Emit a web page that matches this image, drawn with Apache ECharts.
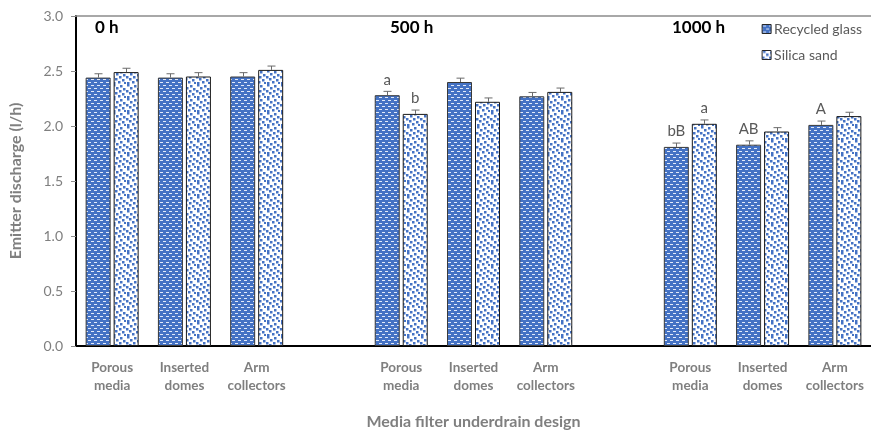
<!DOCTYPE html>
<html>
<head>
<meta charset="utf-8">
<script src="https://cdn.jsdelivr.net/npm/echarts@6/dist/echarts.min.js"></script>
<style>
  html, body { margin: 0; padding: 0; background: #fff; overflow: hidden; }
  #chart { width: 871px; height: 435px; }
</style>
</head>
<body>
<div id="chart"></div>
<script>
// Underdrain designs, repeated for each operating time
const designs = ['Porous\nmedia', 'Inserted\ndomes', 'Arm\ncollectors'];
const periods = ['0 h', '500 h', '1000 h'];

// Emitter discharge (l/h), ordered 0 h, 500 h, 1000 h × designs
const recycledGlass = [2.44, 2.44, 2.45, 2.28, 2.40, 2.27, 1.81, 1.83, 2.01];
const silicaSand    = [2.49, 2.45, 2.51, 2.11, 2.22, 2.31, 2.02, 1.95, 2.09];

// Standard errors
const recycledGlassErr = [0.035, 0.035, 0.035, 0.035, 0.035, 0.035, 0.035, 0.035, 0.035];
const silicaSandErr    = [0.035, 0.035, 0.035, 0.035, 0.035, 0.035, 0.035, 0.035, 0.035];

// Significance letters
const recycledGlassLetters = ['', '', '', 'a', '', '', 'bB', 'AB', 'A'];
const silicaSandLetters    = ['', '', '', 'b', '', '', 'a', '', ''];

const yTicks = [0, 0.5, 1.0, 1.5, 2.0, 2.5, 3.0];

const FONT = 'Lato, "Noto Sans", sans-serif';
const GREY = '#7f7f7f';
const BLUE = '#4472c4';

// Category axis: three designs per period, with an empty slot between periods
const categories = [];
const slotOf = [];
periods.forEach((p, pi) => {
  designs.forEach((d) => {
    slotOf.push(categories.length);
    categories.push(d);
  });
  if (pi < periods.length - 1) categories.push('');
});

function spread(values) {
  const out = categories.map(() => '-');
  values.forEach((v, i) => { out[slotOf[i]] = v; });
  return out;
}

// Fill patterns
function dashPattern() {
  const c = document.createElement('canvas');
  c.width = 6; c.height = 6;
  const g = c.getContext('2d');
  g.fillStyle = BLUE; g.fillRect(0, 0, 6, 6);
  g.fillStyle = 'rgba(235,240,252,0.95)';
  g.fillRect(1, 1, 3, 1);
  g.fillRect(4, 4, 3, 1);
  g.fillRect(0, 4, 1, 1);
  return c;
}
function confettiPattern() {
  const c = document.createElement('canvas');
  c.width = 14; c.height = 14;
  const g = c.getContext('2d');
  g.fillStyle = '#ffffff'; g.fillRect(0, 0, 14, 14);
  g.fillStyle = BLUE;
  const dots = [[1,0],[8,1],[4,3],[11,4],[0,6],[7,6],[3,8],[10,9],[6,11],[1,12],[12,12]];
  dots.forEach(([x, y]) => g.fillRect(x, y, 2.5, 2.5));
  return c;
}
const rgFill = { image: dashPattern(), repeat: 'repeat' };
const ssFill = { image: confettiPattern(), repeat: 'repeat' };

const BAR_W = 25;
const HALF_STEP = 14;

function errorData(values, errs) {
  return values.map((v, i) => [slotOf[i], v, errs[i]]);
}
function errorRenderer(side) {
  return function (params, api) {
    const x = api.value(0), v = api.value(1), e = api.value(2);
    const top = api.coord([x, v + e]);
    const base = api.coord([x, v]);
    const cx = Math.round(top[0] + side * HALF_STEP) + 0.5;
    const style = { stroke: '#6b6b6b', lineWidth: 1 };
    return {
      type: 'group',
      children: [
        { type: 'line', shape: { x1: cx, y1: base[1], x2: cx, y2: top[1] }, style },
        { type: 'line', shape: { x1: cx - 4, y1: top[1], x2: cx + 4, y2: top[1] }, style }
      ]
    };
  };
}

function letterLabel(letters) {
  return {
    show: true,
    position: 'top',
    distance: 8,
    color: '#595959',
    fontFamily: FONT,
    fontSize: 15,
    formatter: (p) => {
      const i = slotOf.indexOf(p.dataIndex);
      return i >= 0 ? letters[i] : '';
    }
  };
}

const chart = echarts.init(document.getElementById('chart'));
chart.setOption({
  animation: false,
  textStyle: { fontFamily: FONT },
  grid: { left: 75, right: 0, top: 16, bottom: 85 },
  legend: {
    orient: 'vertical',
    right: 4,
    top: 17,
    itemWidth: 9,
    itemHeight: 9,
    itemGap: 12,
    icon: 'rect',
    itemStyle: { borderColor: '#262626', borderWidth: 1 },
    textStyle: { color: '#595959', fontSize: 14, fontFamily: FONT, padding: [0, 0, 0, -2] },
    data: ['Recycled glass', 'Silica sand']
  },
  xAxis: [{
    type: 'category',
    data: categories,
    axisLine: { lineStyle: { color: '#000', width: 2 } },
    axisTick: { show: false },
    axisLabel: {
      color: GREY, fontWeight: 'bold', fontSize: 13.5, lineHeight: 18,
      margin: 13, interval: 0
    },
    name: 'Media filter underdrain design',
    nameLocation: 'middle',
    nameGap: 68,
    nameTextStyle: { color: GREY, fontWeight: 'bold', fontSize: 16 }
  }, {
    type: 'category',
    position: 'top',
    data: categories,
    axisLine: { lineStyle: { color: '#8c8c8c', width: 1.5 } },
    axisTick: { show: false },
    axisLabel: { show: false }
  }],
  yAxis: {
    type: 'value',
    min: yTicks[0],
    max: yTicks[yTicks.length - 1],
    interval: 0.5,
    axisLine: { show: true, lineStyle: { color: '#000', width: 2 } },
    axisTick: { show: true, length: 5, lineStyle: { color: '#8c8c8c' } },
    splitLine: { show: false },
    axisLabel: {
      color: GREY, fontSize: 14, margin: 13,
      formatter: (v) => v.toFixed(1)
    },
    name: 'Emitter discharge (l/h)',
    nameLocation: 'middle',
    nameGap: 52,
    nameTextStyle: { color: GREY, fontWeight: 'bold', fontSize: 16 }
  },
  series: [
    {
      name: 'Recycled glass',
      type: 'bar',
      data: spread(recycledGlass),
      barWidth: BAR_W,
      barGap: '12%',
      itemStyle: { color: rgFill, borderColor: '#3a3a3a', borderWidth: 1 },
      label: letterLabel(recycledGlassLetters)
    },
    {
      name: 'Silica sand',
      type: 'bar',
      data: spread(silicaSand),
      barWidth: BAR_W,
      barGap: '12%',
      itemStyle: { color: ssFill, borderColor: '#1a1a1a', borderWidth: 1 },
      label: letterLabel(silicaSandLetters)
    },
    {
      type: 'custom',
      data: errorData(recycledGlass, recycledGlassErr),
      renderItem: errorRenderer(-1),
      z: 5, silent: true
    },
    {
      type: 'custom',
      data: errorData(silicaSand, silicaSandErr),
      renderItem: errorRenderer(1),
      z: 5, silent: true
    }
  ],
  graphic: periods.map((p, i) => ({
    type: 'text',
    left: [95, 390, 672][i],
    top: 19,
    style: { text: p, fill: '#000', font: 'bold 17px ' + FONT }
  }))
});
</script>
</body>
</html>
